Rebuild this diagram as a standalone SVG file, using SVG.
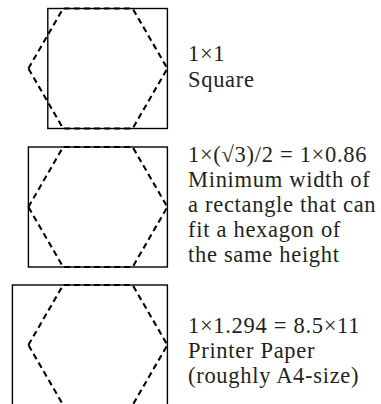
<svg xmlns="http://www.w3.org/2000/svg" width="381" height="404" viewBox="0 0 381 404">
<defs>
<style>
.frame{fill:none;stroke:#000;stroke-width:1.4}
.hex{fill:none;stroke:#000;stroke-width:2.1;stroke-dasharray:6 4}
.lbl{font-family:"Liberation Serif","Times New Roman",serif;font-size:22.5px;letter-spacing:0.7px;fill:#231f20}
</style>
<polygon id="hexShape" points="-69.5,0 -34.75,-60 34.75,-60 69.5,0 34.75,60 -34.75,60"/>
</defs>
<rect width="381" height="404" fill="#fff"/>
<g id="panel-square">
<rect class="frame" x="47.8" y="8.5" width="119.6" height="120"/>
<use href="#hexShape" class="hex" transform="translate(97.9,68.5)"/>
<text class="lbl" x="188" y="61">1×1</text>
<text class="lbl" x="188" y="86.5">Square</text>
</g>
<g id="panel-min">
<rect class="frame" x="28.4" y="147" width="139" height="120"/>
<use href="#hexShape" class="hex" transform="translate(97.9,207)"/>
<text class="lbl" x="188" y="162">1×(√3)/2 = 1×0.86</text>
<text class="lbl" x="188" y="187">Minimum width of</text>
<text class="lbl" x="188" y="212">a rectangle that can</text>
<text class="lbl" x="188" y="237">fit a hexagon of</text>
<text class="lbl" x="188" y="262">the same height</text>
</g>
<g id="panel-paper">
<rect class="frame" x="12.4" y="285" width="155" height="200"/>
<use href="#hexShape" class="hex" transform="translate(97.9,345)"/>
<text class="lbl" x="188" y="333">1×1.294 = 8.5×11</text>
<text class="lbl" x="188" y="358">Printer Paper</text>
<text class="lbl" x="188" y="383">(roughly A4-size)</text>
</g>
</svg>
